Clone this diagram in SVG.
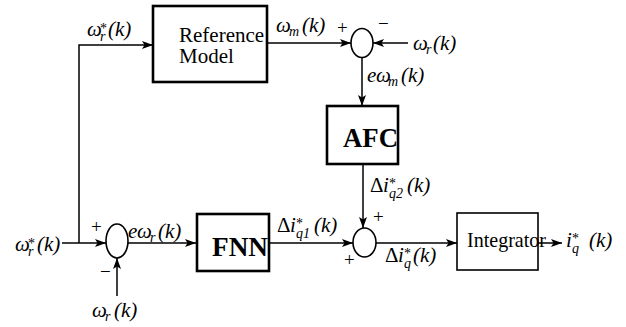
<svg xmlns="http://www.w3.org/2000/svg" width="626" height="327" viewBox="0 0 626 327" font-family="Liberation Serif, DejaVu Serif, Times New Roman, serif">
<defs>
<marker id="ah" markerUnits="userSpaceOnUse" markerWidth="11" markerHeight="8" refX="11" refY="4" orient="auto">
<path d="M0,0 L11,4 L0,8 L2.5,4 z" fill="#000"/>
</marker>
<style>
.box{fill:#fff;stroke:#000;stroke-width:2.6}
.thin{fill:#fff;stroke:#000;stroke-width:1.6}
.sum{fill:#fff;stroke:#000;stroke-width:1.6}
.wire{fill:none;stroke:#000;stroke-width:1.5;marker-end:url(#ah)}
.line{fill:none;stroke:#000;stroke-width:1.5}
.t{font-size:21px}
.b{font-size:28px;font-weight:bold}
.m{font-size:21px;font-style:italic}
.s{font-size:14px}
.u{font-style:normal}
.p{font-size:19px}
</style>
</defs>
<g id="connectors">
<path class="line" d="M62,243 H79"/>
<path class="wire" d="M79,243 H106"/>
<path class="wire" d="M79,243 V45 H153"/>
<path class="wire" d="M267,43 H351"/>
<path class="wire" d="M408,43 H373"/>
<path class="wire" d="M362,57 V106"/>
<path class="wire" d="M117,296 V258"/>
<path class="wire" d="M128,243 H196"/>
<path class="wire" d="M270,243 H353"/>
<path class="wire" d="M363,164 V228"/>
<path class="wire" d="M376,243 H457"/>
<path class="wire" d="M538,243 H562"/>
</g>
<g id="reference-model">
<rect class="box" x="153" y="6" width="114" height="76"/>
<text class="t" x="179" y="42">Reference</text>
<text class="t" x="179" y="63">Model</text>
</g>
<g id="sum-top">
<ellipse class="sum" cx="362" cy="43" rx="11" ry="14.5"/>
<text class="p" x="337" y="34">+</text>
<text class="p" x="378" y="30">−</text>
</g>
<g id="afc">
<rect class="box" x="327" y="106" width="71" height="58"/>
<text class="b" x="343" y="147" textLength="55" lengthAdjust="spacingAndGlyphs">AFC</text>
</g>
<g id="sum-left">
<ellipse class="sum" cx="117" cy="241" rx="11" ry="17"/>
<text class="p" x="91" y="233">+</text>
<text class="p" x="100" y="278">−</text>
</g>
<g id="fnn">
<rect class="box" x="197" y="214" width="72" height="57"/>
<text class="b" x="212" y="256" textLength="56" lengthAdjust="spacingAndGlyphs">FNN</text>
</g>
<g id="sum-right">
<ellipse class="sum" cx="364.5" cy="242.5" rx="11.5" ry="14.5"/>
<text class="p" x="373" y="223">+</text>
<text class="p" x="344" y="266">+</text>
</g>
<g id="integrator">
<rect class="thin" x="457" y="213" width="81" height="57"/>
<text class="t" x="467" y="247" textLength="79" lengthAdjust="spacingAndGlyphs">Integrator</text>
</g>
<g id="labels">
<text class="m" x="87" y="36">ω<tspan class="s u" x="100" y="33">*</tspan><tspan class="s" x="100" y="41">r</tspan><tspan x="108" y="36">(k)</tspan></text>
<text class="m" x="276" y="32">ω<tspan class="s" x="289" y="36">m</tspan><tspan x="302" y="32">(k)</tspan></text>
<text class="m" x="413" y="50">ω<tspan class="s" x="426" y="54">r</tspan><tspan x="433" y="50">(k)</tspan></text>
<text class="m" x="367" y="82">e<tspan x="376">ω</tspan><tspan class="s" x="388" y="86">m</tspan><tspan x="401" y="82">(k)</tspan></text>
<text class="m" x="15" y="251">ω<tspan class="s u" x="28" y="248">*</tspan><tspan class="s" x="28" y="256">r</tspan><tspan x="37" y="251">(k)</tspan></text>
<text class="m" x="128" y="238">e<tspan x="137">ω</tspan><tspan class="s" x="150" y="242">r</tspan><tspan x="158" y="238">(k)</tspan></text>
<text class="m" x="92" y="317">ω<tspan class="s" x="105" y="321">r</tspan><tspan x="114" y="317">(k)</tspan></text>
<text class="m" x="277" y="232"><tspan class="u">Δ</tspan><tspan x="290">i</tspan><tspan class="s u" x="296" y="228">*</tspan><tspan class="s" x="296" y="238">q1</tspan><tspan x="314" y="232">(k)</tspan></text>
<text class="m" x="370" y="192"><tspan class="u">Δ</tspan><tspan x="383">i</tspan><tspan class="s u" x="389" y="188">*</tspan><tspan class="s" x="389" y="198">q2</tspan><tspan x="407" y="192">(k)</tspan></text>
<text class="m" x="385" y="262"><tspan class="u">Δ</tspan><tspan x="398">i</tspan><tspan class="s u" x="404" y="258">*</tspan><tspan class="s" x="404" y="268">q</tspan><tspan x="413" y="262">(k)</tspan></text>
<text class="m" x="566" y="247">i<tspan class="s u" x="572" y="243">*</tspan><tspan class="s" x="572" y="253">q</tspan><tspan x="589" y="247">(k)</tspan></text>
</g>
</svg>
